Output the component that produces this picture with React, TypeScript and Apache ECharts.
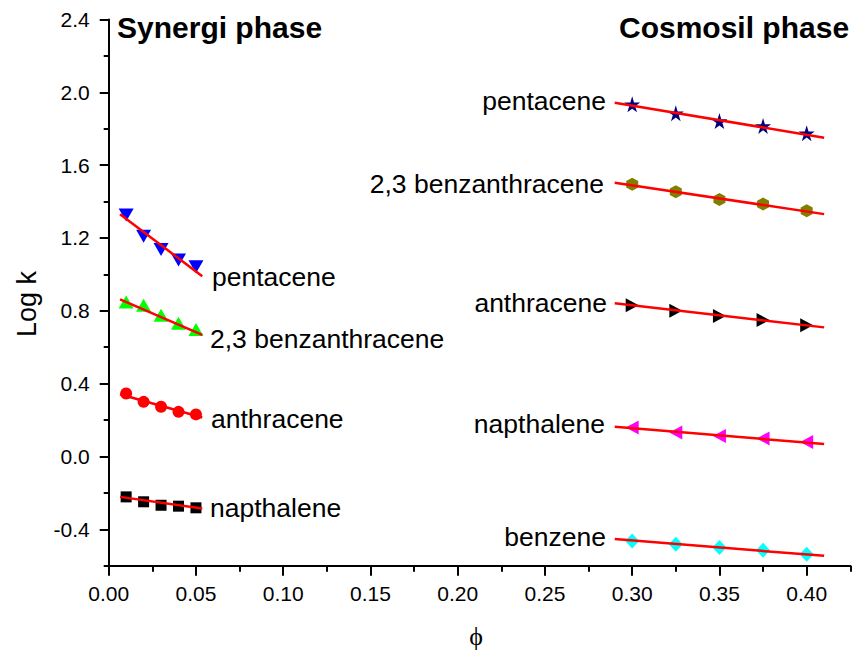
import React, { useEffect, useRef } from 'react';
import * as echarts from 'echarts';

// phi values
const synergiPhi = [0.01, 0.02, 0.03, 0.04, 0.05];
const cosmosilPhi = [0.3, 0.325, 0.35, 0.375, 0.4];

// Synergi phase (Log k)
const synPentacene = [1.326, 1.21, 1.137, 1.079, 1.042];
const synBenzanthracene = [0.849, 0.831, 0.776, 0.731, 0.698];
const synAnthracene = [0.346, 0.3, 0.273, 0.245, 0.231];
const synNapthalene = [-0.222, -0.249, -0.268, -0.273, -0.282];

// Cosmosil phase (Log k)
const cosPentacene = [1.934, 1.885, 1.842, 1.815, 1.775];
const cosBenzanthracene = [1.495, 1.454, 1.412, 1.386, 1.349];
const cosAnthracene = [0.831, 0.8, 0.771, 0.749, 0.721];
const cosNapthalene = [0.159, 0.132, 0.113, 0.099, 0.08];
const cosBenzene = [-0.464, -0.482, -0.5, -0.515, -0.537];

// linear fit lines: phi range and Log k at both ends
const synFitPhi = [0.0065, 0.0536];
const cosFitPhi = [0.29, 0.41];
const synFitPentacene = [1.331, 0.99];
const synFitBenzanthracene = [0.863, 0.668];
const synFitAnthracene = [0.342, 0.214];
const synFitNapthalene = [-0.222, -0.286];
const cosFitPentacene = [1.943, 1.751];
const cosFitBenzanthracene = [1.503, 1.331];
const cosFitAnthracene = [0.841, 0.709];
const cosFitNapthalene = [0.163, 0.068];
const cosFitBenzene = [-0.454, -0.546];

// ticks
const xMajorTicks = [0, 0.05, 0.1, 0.15, 0.2, 0.25, 0.3, 0.35, 0.4];
const xMinorTicks = [0.025, 0.075, 0.125, 0.175, 0.225, 0.275, 0.325, 0.375, 0.425];
const yMajorTicks = [-0.4, 0, 0.4, 0.8, 1.2, 1.6, 2.0, 2.4];
const yMinorTicks = [-0.6, -0.2, 0.2, 0.6, 1.0, 1.4, 1.8, 2.2];

const FONT = "'Liberation Sans', Arial, Helvetica, sans-serif";
const STAR = 'path://M50,0 L61,35 L98,35 L68,57 L79,91 L50,70 L21,91 L32,57 L2,35 L39,35 Z';
const HEX = 'path://M43,0 L86,25 L86,75 L43,100 L0,75 L0,25 Z';

function pts(xs: number[], ys: number[]) {
  return xs.map((x, i) => [x, ys[i]]);
}

export default function App() {
  const ref = useRef<HTMLDivElement>(null);
  useEffect(() => {
    document.body.style.margin = '0';
    const chart = echarts.init(ref.current!, null, { renderer: 'svg' });

    const scatter = (name: string, xs: number[], ys: number[], symbol: string, size: any, color: string, rotate = 0) => ({
      type: 'scatter',
      name,
      data: pts(xs, ys),
      symbol,
      symbolSize: size,
      symbolRotate: rotate,
      itemStyle: { color, opacity: 1 },
      z: 2,
      silent: true,
    });
    const fit = (xs: number[], ys: number[]) => ({
      type: 'line',
      data: pts(xs, ys),
      symbol: 'none',
      lineStyle: { color: '#ff0000', width: 2.5 },
      z: 3,
      silent: true,
    });

    const label = (text: string, x: number, y: number, align: string, size = 26.5) => ({
      type: 'text',
      x,
      y,
      style: { text, fill: '#000', font: `${size}px ${FONT}`, align, verticalAlign: 'middle' },
    });

    chart.setOption({
      animation: false,
      grid: { left: 108.7, right: 7.7, top: 19.5, bottom: 87.3, containLabel: false },
      xAxis: [
        {
          type: 'value',
          min: 0,
          max: 0.425,
          axisLine: { show: true, onZero: false, lineStyle: { color: '#000', width: 2 } },
          axisTick: { show: true, inside: false, length: 10, customValues: xMajorTicks, lineStyle: { color: '#000', width: 2 } },
          axisLabel: {
            customValues: xMajorTicks,
            formatter: (v: number) => v.toFixed(2),
            color: '#000',
            fontSize: 21,
            fontFamily: FONT,
            margin: 17,
          },
          splitLine: { show: false },
        },
        {
          type: 'value',
          min: 0,
          max: 0.425,
          position: 'bottom',
          axisLine: { show: false, onZero: false },
          axisTick: { show: true, length: 6, customValues: xMinorTicks, lineStyle: { color: '#000', width: 2 } },
          axisLabel: { show: false },
          splitLine: { show: false },
        },
      ],
      yAxis: [
        {
          type: 'value',
          min: -0.6,
          max: 2.4,
          axisLine: { show: true, onZero: false, lineStyle: { color: '#000', width: 2 } },
          axisTick: { show: true, length: 9, customValues: yMajorTicks, lineStyle: { color: '#000', width: 2 } },
          axisLabel: {
            customValues: yMajorTicks,
            formatter: (v: number) => v.toFixed(1),
            color: '#000',
            fontSize: 21,
            fontFamily: FONT,
            margin: 19,
          },
          splitLine: { show: false },
        },
        {
          type: 'value',
          min: -0.6,
          max: 2.4,
          position: 'left',
          axisLine: { show: false, onZero: false },
          axisTick: { show: true, length: 5, customValues: yMinorTicks, lineStyle: { color: '#000', width: 2 } },
          axisLabel: { show: false },
          splitLine: { show: false },
        },
      ],
      series: [
        scatter('S pentacene', synergiPhi, synPentacene, 'triangle', [15, 13], '#0000ff', 180),
        scatter('S benzanthracene', synergiPhi, synBenzanthracene, 'triangle', [15, 13], '#00ff00'),
        scatter('S anthracene', synergiPhi, synAnthracene, 'circle', 12, '#ff0000'),
        scatter('S napthalene', synergiPhi, synNapthalene, 'rect', 11, '#000000'),
        scatter('C pentacene', cosmosilPhi, cosPentacene, STAR, 16, '#000080'),
        scatter('C benzanthracene', cosmosilPhi, cosBenzanthracene, HEX, [12, 13], '#808000'),
        scatter('C anthracene', cosmosilPhi, cosAnthracene, 'triangle', [14, 13], '#000000', -90),
        scatter('C napthalene', cosmosilPhi, cosNapthalene, 'triangle', [14, 13], '#ff00ff', 90),
        scatter('C benzene', cosmosilPhi, cosBenzene, 'diamond', [14, 15], '#00ffff'),
        fit(synFitPhi, synFitPentacene),
        fit(synFitPhi, synFitBenzanthracene),
        fit(synFitPhi, synFitAnthracene),
        fit(synFitPhi, synFitNapthalene),
        fit(cosFitPhi, cosFitPentacene),
        fit(cosFitPhi, cosFitBenzanthracene),
        fit(cosFitPhi, cosFitAnthracene),
        fit(cosFitPhi, cosFitNapthalene),
        fit(cosFitPhi, cosFitBenzene),
      ],
      graphic: [
        {
          type: 'text',
          x: 117,
          y: 27,
          style: { text: 'Synergi phase', fill: '#000', font: `bold 30px ${FONT}`, align: 'left', verticalAlign: 'middle' },
        },
        {
          type: 'text',
          x: 619,
          y: 27,
          style: { text: 'Cosmosil phase', fill: '#000', font: `bold 30px ${FONT}`, align: 'left', verticalAlign: 'middle' },
        },
        label('pentacene', 212, 277, 'left'),
        label('2,3 benzanthracene', 210, 339, 'left'),
        label('anthracene', 211, 419, 'left'),
        label('napthalene', 210, 508, 'left'),
        label('pentacene', 606, 101, 'right'),
        label('2,3 benzanthracene', 604, 184, 'right'),
        label('anthracene', 607, 303, 'right'),
        label('napthalene', 605, 424, 'right'),
        label('benzene', 606, 537, 'right'),
        {
          type: 'text',
          x: 27,
          y: 304,
          rotation: Math.PI / 2,
          style: { text: 'Log k', fill: '#000', font: `27px ${FONT}`, align: 'center', verticalAlign: 'middle' },
        },
        {
          type: 'text',
          x: 476,
          y: 636,
          style: { text: 'ϕ', fill: '#000', font: "26px 'Liberation Serif', 'DejaVu Serif', serif", align: 'center', verticalAlign: 'middle' },
        },
      ],
    });
    return () => chart.dispose();
  }, []);
  return <div ref={ref} style={{ position: 'absolute', left: 0, top: 0, width: 858, height: 653 }} />;
}
